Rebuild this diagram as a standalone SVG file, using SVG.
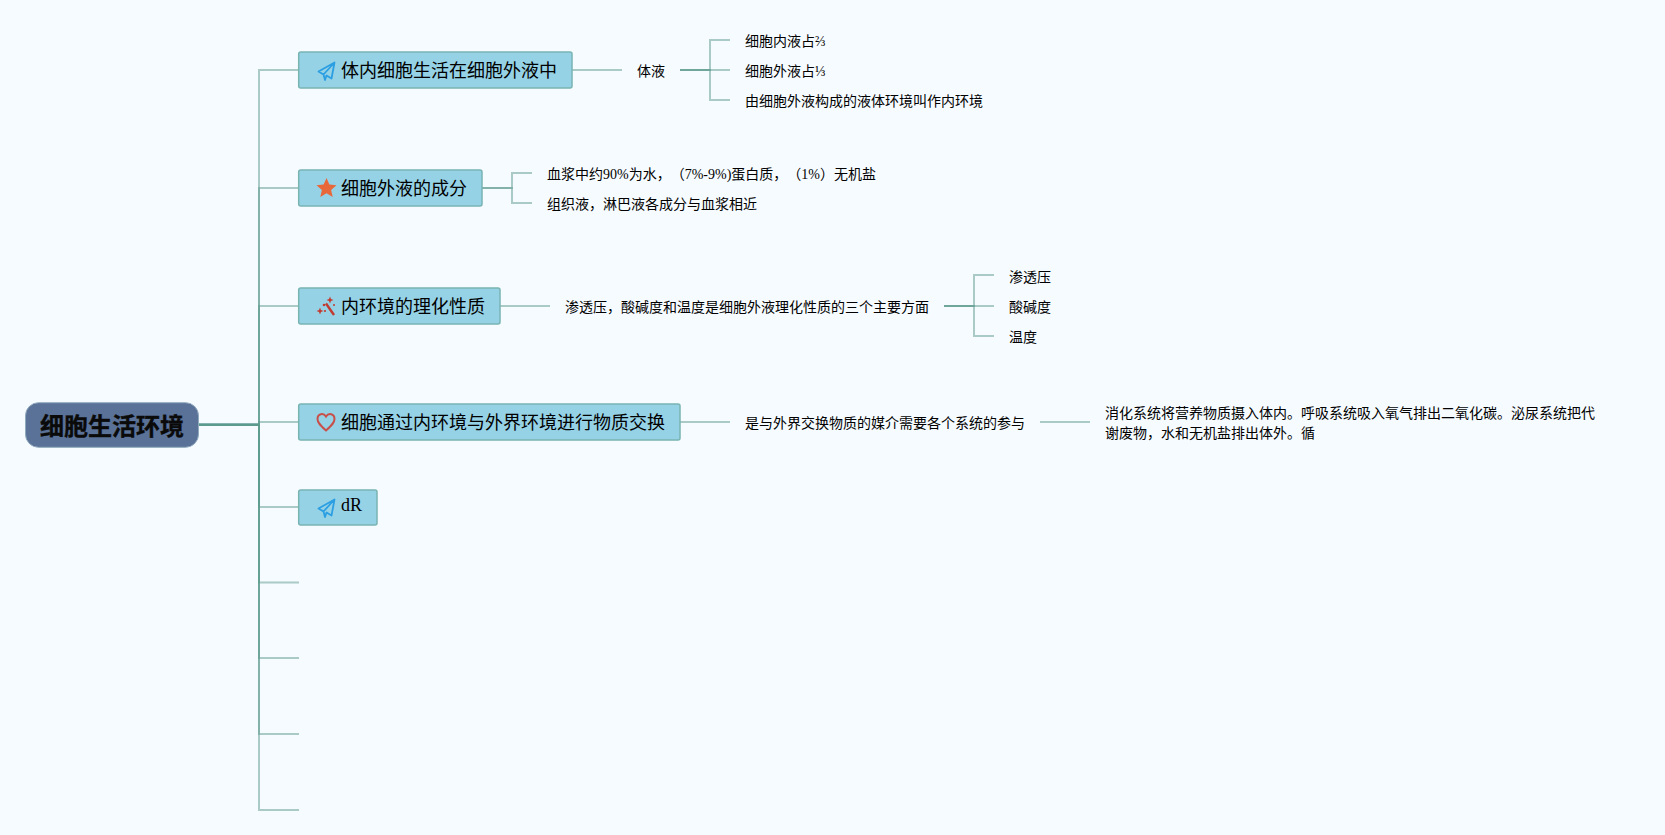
<svg xmlns="http://www.w3.org/2000/svg" width="1665" height="835" viewBox="0 0 1665 835">
<style>
text{font-family:"Liberation Serif","Noto Sans CJK SC",sans-serif;fill:#000;text-spacing-trim:space-all}
.t0{font-size:24px;font-weight:bold;fill:#0a0a0a;stroke:#0a0a0a;stroke-width:.4}
.t1{font-size:18px}
.t2{font-size:14px}
.n1{fill:#96d2e6;stroke:#78b4b2;stroke-width:1.5}
.c{fill:none;stroke:#5c9a8e;stroke-width:2;stroke-opacity:.5}
.plane{fill:none;stroke:#2c9fe2;stroke-width:1.8;stroke-linejoin:round}
</style>
<rect width="1665" height="835" fill="#f6fbff"/>
<g id="connectors">
<path class="c" d="M199 424.7H259V70H299"/>
<path class="c" d="M199 424.7H259V188H299"/>
<path class="c" d="M199 424.7H259V306H299"/>
<path class="c" d="M199 424.7H259V422H299"/>
<path class="c" d="M199 424.7H259V507H299"/>
<path class="c" d="M199 424.7H259V582.5H299"/>
<path class="c" d="M199 424.7H259V658H299"/>
<path class="c" d="M199 424.7H259V734H299"/>
<path class="c" d="M199 424.7H259V810H299"/>
<path class="c" d="M572 70H622"/>
<path class="c" d="M680 70H710V40H730"/>
<path class="c" d="M680 70H730"/>
<path class="c" d="M680 70H710V100H730"/>
<path class="c" d="M482 188H512V173H532"/>
<path class="c" d="M482 188H512V203H532"/>
<path class="c" d="M500 306H550"/>
<path class="c" d="M944 306H974V275H994"/>
<path class="c" d="M944 306H994"/>
<path class="c" d="M944 306H974V336H994"/>
<path class="c" d="M680 422H730"/>
<path class="c" d="M1040 422H1090"/>
</g>
<g id="root"><rect x="25.5" y="402.7" width="173" height="44.6" rx="13" fill="#5a7298" stroke="#8fa9bd" stroke-width="1"/><text class="t0" x="40" y="435">细胞生活环境</text></g>
<g id="n1"><rect class="n1" x="298.7" y="52" width="273.3" height="36" rx="2"/>
<path class="plane" d="M334.5 62.5L318.5 71.5L323.5 74.5L334.5 62.5L331.5 78.5L326.5 75.5L325 80L323.5 74.5"/>
<text class="t1" x="341" y="76.5">体内细胞生活在细胞外液中</text></g>
<g id="n1-1"><text class="t2" x="637" y="76">体液</text></g>
<g id="n1-1-1"><text class="t2" x="745" y="46">细胞内液占⅔</text></g>
<g id="n1-1-2"><text class="t2" x="745" y="76">细胞外液占⅓</text></g>
<g id="n1-1-3"><text class="t2" x="745" y="106">由细胞外液构成的液体环境叫作内环境</text></g>
<g id="n2"><rect class="n1" x="298.7" y="170" width="183.3" height="36" rx="2"/>
<path fill="#e8683a" d="M326.5 178L329.4 184.6L336.5 185.3L331.1 190L332.7 197L326.5 193.3L320.3 197L321.9 190L316.5 185.3L323.6 184.6Z"/>
<text class="t1" x="341" y="195">细胞外液的成分</text></g>
<g id="n2-1"><text class="t2" x="547" y="179">血浆中约90%为水，（7%-9%)蛋白质，（1%）无机盐</text></g>
<g id="n2-2"><text class="t2" x="547" y="209">组织液，淋巴液各成分与血浆相近</text></g>
<g id="n3"><rect class="n1" x="298.7" y="288" width="201.3" height="36" rx="2"/>
<path stroke="#c23b30" stroke-width="2.4" fill="none" d="M326 303.5L334 315"/>
<g fill="#c23b30"><path d="M320 307.5L321 310L323.5 311L321 312L320 314.5L319 312L316.5 311L319 310Z"/><path d="M330 296.5L331 299L333.5 300L331 301L330 303.5L329 301L326.5 300L329 299Z"/><circle cx="324" cy="305" r="1.3"/><circle cx="325" cy="311" r="1.1"/><circle cx="334" cy="305" r="1"/></g>
<text class="t1" x="341" y="313">内环境的理化性质</text></g>
<g id="n3-1"><text class="t2" x="565" y="312">渗透压，酸碱度和温度是细胞外液理化性质的三个主要方面</text></g>
<g id="n3-1-1"><text class="t2" x="1009" y="282">渗透压</text></g>
<g id="n3-1-2"><text class="t2" x="1009" y="312">酸碱度</text></g>
<g id="n3-1-3"><text class="t2" x="1009" y="342">温度</text></g>
<g id="n4"><rect class="n1" x="298.7" y="404" width="381.3" height="36" rx="2"/>
<path fill="none" stroke="#c8504a" stroke-width="2" d="M326 430.5C321 426 317.5 423 317.5 419C317.5 413.5 323.5 412.5 326 416.5C328.5 412.5 334.5 413.5 334.5 419C334.5 423 331 426 326 430.5Z"/>
<text class="t1" x="341" y="429">细胞通过内环境与外界环境进行物质交换</text></g>
<g id="n4-1"><text class="t2" x="745" y="427.5">是与外界交换物质的媒介需要各个系统的参与</text></g>
<g id="n4-2"><text class="t2" x="1105" y="418">消化系统将营养物质摄入体内。呼吸系统吸入氧气排出二氧化碳。泌尿系统把代</text><text class="t2" x="1105" y="438">谢废物，水和无机盐排出体外。循</text></g>
<g id="n5"><rect class="n1" x="298.7" y="490" width="78.3" height="35" rx="2"/>
<path class="plane" d="M334.5 499.5L318.5 508.5L323.5 511.5L334.5 499.5L331.5 515.5L326.5 512.5L325 517L323.5 511.5"/>
<text class="t1" x="341" y="511">dR</text></g>
</svg>
